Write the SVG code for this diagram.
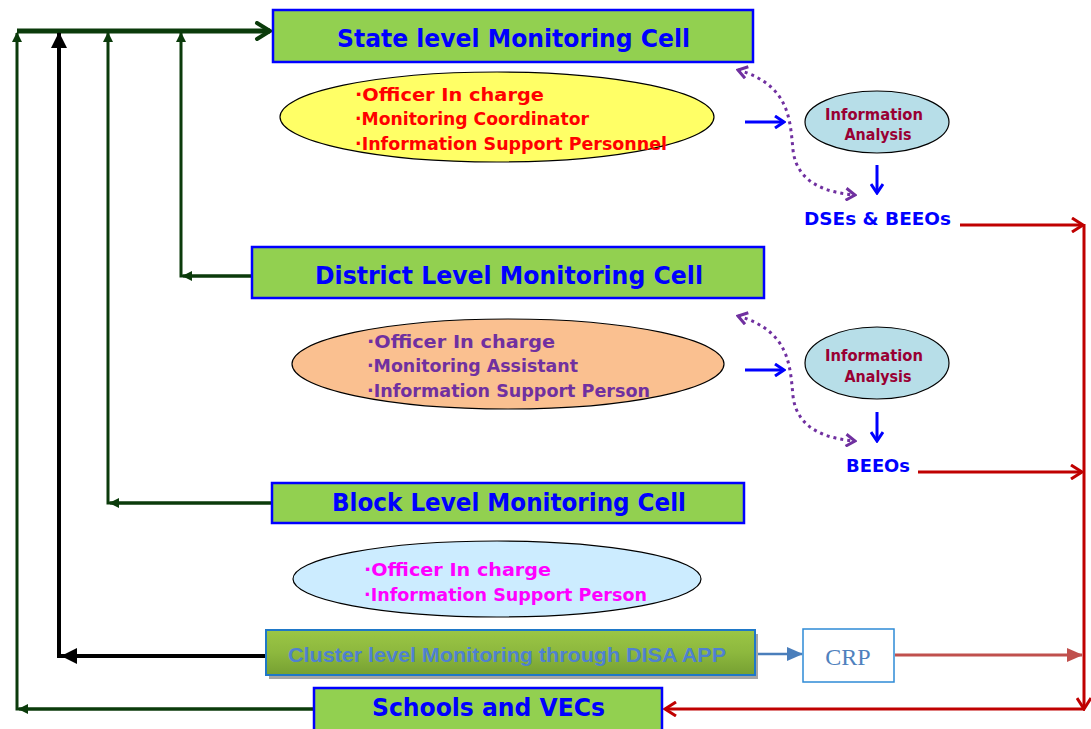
<svg xmlns="http://www.w3.org/2000/svg" width="1091" height="729" viewBox="0 0 1091 729">
<style>
.box{fill:#92D050;stroke:#0000FF;stroke-width:2.5}
.title{font-family:"DejaVu Sans",sans-serif;font-weight:bold;font-size:24px;fill:#0000FF}
.item{font-family:"DejaVu Sans",sans-serif;font-weight:bold;font-size:17px}
.ia{font-family:"DejaVu Sans",sans-serif;font-weight:bold;font-size:15px;fill:#990033;text-anchor:middle}
.lbl{font-family:"DejaVu Sans",sans-serif;font-weight:bold;font-size:18px;fill:#0000FF}
.g{fill:none;stroke:#0B3B0B;stroke-width:3}
.k{fill:none;stroke:#000000;stroke-width:4}
.blue{fill:none;stroke:#0000FF;stroke-width:3}
.red{fill:none;stroke:#C00000;stroke-width:3}
.dot{fill:none;stroke:#7030A0;stroke-width:3;stroke-dasharray:3 4}
</style>
<defs>
<marker id="gTri" markerWidth="10" markerHeight="10" refX="9" refY="5" orient="auto" markerUnits="userSpaceOnUse"><path d="M0,0 L10,5 L0,10 z" fill="#0B3B0B"/></marker>
<marker id="kTri" markerWidth="16" markerHeight="16" refX="15" refY="8" orient="auto" markerUnits="userSpaceOnUse"><path d="M0,0 L16,8 L0,16 z" fill="#000"/></marker>
<marker id="gChev" markerWidth="20" markerHeight="20" refX="17" refY="10" orient="auto" markerUnits="userSpaceOnUse"><path d="M4,2 L17,10 L4,18" fill="none" stroke="#0B3B0B" stroke-width="4" stroke-linecap="round"/></marker>
<marker id="bChev" markerWidth="14" markerHeight="14" refX="12" refY="7" orient="auto" markerUnits="userSpaceOnUse"><path d="M3,1 L12,7 L3,13" fill="none" stroke="#0000FF" stroke-width="3"/></marker>
<marker id="rChev" markerWidth="16" markerHeight="16" refX="14" refY="8" orient="auto" markerUnits="userSpaceOnUse"><path d="M3,1 L14,8 L3,15" fill="none" stroke="#C00000" stroke-width="3"/></marker>
<marker id="pChev" markerWidth="14" markerHeight="14" refX="12" refY="7" orient="auto-start-reverse" markerUnits="userSpaceOnUse"><path d="M3,1 L12,7 L3,13" fill="none" stroke="#7030A0" stroke-width="3"/></marker>
<marker id="lbTri" markerWidth="16" markerHeight="14" refX="15" refY="7" orient="auto" markerUnits="userSpaceOnUse"><path d="M0,0 L16,7 L0,14 z" fill="#4A7EBB"/></marker>
<marker id="lrTri" markerWidth="16" markerHeight="14" refX="15" refY="7" orient="auto" markerUnits="userSpaceOnUse"><path d="M0,0 L16,7 L0,14 z" fill="#C0504D"/></marker>
<linearGradient id="clg" x1="0" y1="0" x2="0" y2="1"><stop offset="0" stop-color="#9BC645"/><stop offset="0.5" stop-color="#8DB83E"/><stop offset="1" stop-color="#76A032"/></linearGradient>
</defs>

<g id="connectors">
  <line class="g" x1="17" y1="31" x2="270" y2="31" stroke-width="5" style="stroke-width:5" marker-end="url(#gChev)"/>
  <polyline class="g" points="314,709 17,709 17,33" marker-end="url(#gTri)"/>
  <line class="g" x1="314" y1="709" x2="19" y2="709" marker-end="url(#gTri)"/>
  <polyline class="k" points="266,656 59,656 59,33" marker-end="url(#kTri)"/>
  <line class="k" x1="264" y1="656" x2="62" y2="656" marker-end="url(#kTri)"/>
  <polyline class="g" points="272,503 108,503 108,33" marker-end="url(#gTri)"/>
  <line class="g" x1="272" y1="503" x2="110" y2="503" marker-end="url(#gTri)"/>
  <polyline class="g" points="252,276 181,276 181,33" marker-end="url(#gTri)"/>
  <line class="g" x1="252" y1="276" x2="183" y2="276" marker-end="url(#gTri)"/>

  <line class="blue" x1="745" y1="122" x2="784" y2="122" marker-end="url(#bChev)"/>
  <line class="blue" x1="745" y1="370" x2="784" y2="370" marker-end="url(#bChev)"/>
  <line class="blue" x1="877" y1="165" x2="877" y2="193" marker-end="url(#bChev)"/>
  <line class="blue" x1="877" y1="412" x2="877" y2="441" marker-end="url(#bChev)"/>

  <path class="dot" d="M738,70 C790,85 790,120 793,150 C797,185 830,193 855,195" marker-start="url(#pChev)" marker-end="url(#pChev)"/>
  <path class="dot" d="M738,316 C790,331 790,366 793,396 C797,431 830,439 855,441" marker-start="url(#pChev)" marker-end="url(#pChev)"/>

  <line class="red" x1="960" y1="225" x2="1083" y2="225" marker-end="url(#rChev)"/>
  <line class="red" x1="918" y1="472" x2="1082" y2="472" marker-end="url(#rChev)"/>
  <line class="red" x1="1084" y1="224" x2="1084" y2="709" marker-end="url(#rChev)"/>
  <line class="red" x1="1085" y1="709" x2="665" y2="709" marker-end="url(#rChev)"/>
  <line x1="895" y1="655" x2="1082" y2="655" stroke="#C0504D" stroke-width="3" marker-end="url(#lrTri)"/>
  <line x1="756" y1="654" x2="802" y2="654" stroke="#4A7EBB" stroke-width="2.5" marker-end="url(#lbTri)"/>
</g>

<g id="state">
  <rect class="box" x="273" y="10" width="480" height="52"/>
  <text class="title" x="337" y="47" textLength="353" lengthAdjust="spacingAndGlyphs">State level Monitoring Cell</text>
</g>
<g id="state-staff">
  <ellipse cx="497" cy="117" rx="217" ry="45" fill="#FFFF66" stroke="#000" stroke-width="1.2"/>
  <text class="item" fill="#FF0000" x="355" y="101" textLength="189" lengthAdjust="spacingAndGlyphs">·Officer In charge</text>
  <text class="item" fill="#FF0000" x="355" y="125" textLength="234" lengthAdjust="spacingAndGlyphs">·Monitoring Coordinator</text>
  <text class="item" fill="#FF0000" x="355" y="150" textLength="312" lengthAdjust="spacingAndGlyphs">·Information Support Personnel</text>
</g>
<g id="state-analysis">
  <ellipse cx="877" cy="122" rx="72" ry="31" fill="#B7DEE8" stroke="#000" stroke-width="1.2"/>
  <text class="ia" x="874" y="120" textLength="98" lengthAdjust="spacingAndGlyphs">Information</text>
  <text class="ia" x="878" y="140" textLength="67" lengthAdjust="spacingAndGlyphs">Analysis</text>
</g>
<g id="dses">
  <text class="lbl" x="804" y="225" textLength="147" lengthAdjust="spacingAndGlyphs">DSEs &amp; BEEOs</text>
</g>

<g id="district">
  <rect class="box" x="252" y="247" width="512" height="51"/>
  <text class="title" x="315" y="284" textLength="388" lengthAdjust="spacingAndGlyphs">District Level Monitoring Cell</text>
</g>
<g id="district-staff">
  <ellipse cx="508" cy="364" rx="216" ry="45" fill="#FAC090" stroke="#000" stroke-width="1.2"/>
  <text class="item" fill="#7030A0" x="367" y="348" textLength="188" lengthAdjust="spacingAndGlyphs">·Officer In charge</text>
  <text class="item" fill="#7030A0" x="367" y="372" textLength="211" lengthAdjust="spacingAndGlyphs">·Monitoring Assistant</text>
  <text class="item" fill="#7030A0" x="367" y="397" textLength="283" lengthAdjust="spacingAndGlyphs">·Information Support Person</text>
</g>
<g id="district-analysis">
  <ellipse cx="877" cy="363" rx="72" ry="36" fill="#B7DEE8" stroke="#000" stroke-width="1.2"/>
  <text class="ia" x="874" y="361" textLength="98" lengthAdjust="spacingAndGlyphs">Information</text>
  <text class="ia" x="878" y="382" textLength="67" lengthAdjust="spacingAndGlyphs">Analysis</text>
</g>
<g id="beeos">
  <text class="lbl" x="846" y="472" textLength="64" lengthAdjust="spacingAndGlyphs">BEEOs</text>
</g>

<g id="block">
  <rect class="box" x="272" y="483" width="472" height="40"/>
  <text class="title" x="332" y="511" textLength="354" lengthAdjust="spacingAndGlyphs">Block Level Monitoring Cell</text>
</g>
<g id="block-staff">
  <ellipse cx="497" cy="579" rx="204" ry="38" fill="#CCECFF" stroke="#000" stroke-width="1.2"/>
  <text class="item" fill="#FF00FF" x="364" y="576" textLength="187" lengthAdjust="spacingAndGlyphs">·Officer In charge</text>
  <text class="item" fill="#FF00FF" x="364" y="601" textLength="283" lengthAdjust="spacingAndGlyphs">·Information Support Person</text>
</g>

<g id="cluster">
  <rect x="269" y="634" width="489" height="45" fill="#A5A5A5"/>
  <rect x="266" y="630" width="489" height="45" fill="url(#clg)" stroke="#1F78C8" stroke-width="2"/>
  <text x="288" y="662" font-family="Liberation Sans, Arial, sans-serif" font-weight="bold" font-size="20" fill="#4F81D0" textLength="438" lengthAdjust="spacingAndGlyphs">Cluster level Monitoring through DISA APP</text>
</g>
<g id="crp">
  <rect x="803" y="629" width="91" height="53" fill="#FFFFFF" stroke="#2E8BD6" stroke-width="1.5"/>
  <text x="848" y="665" font-family="Liberation Serif, serif" font-size="24" fill="#4F81BD" text-anchor="middle">CRP</text>
</g>
<g id="schools">
  <rect class="box" x="314" y="688" width="348" height="45"/>
  <text class="title" x="372" y="716" textLength="233" lengthAdjust="spacingAndGlyphs">Schools and VECs</text>
</g>
</svg>
